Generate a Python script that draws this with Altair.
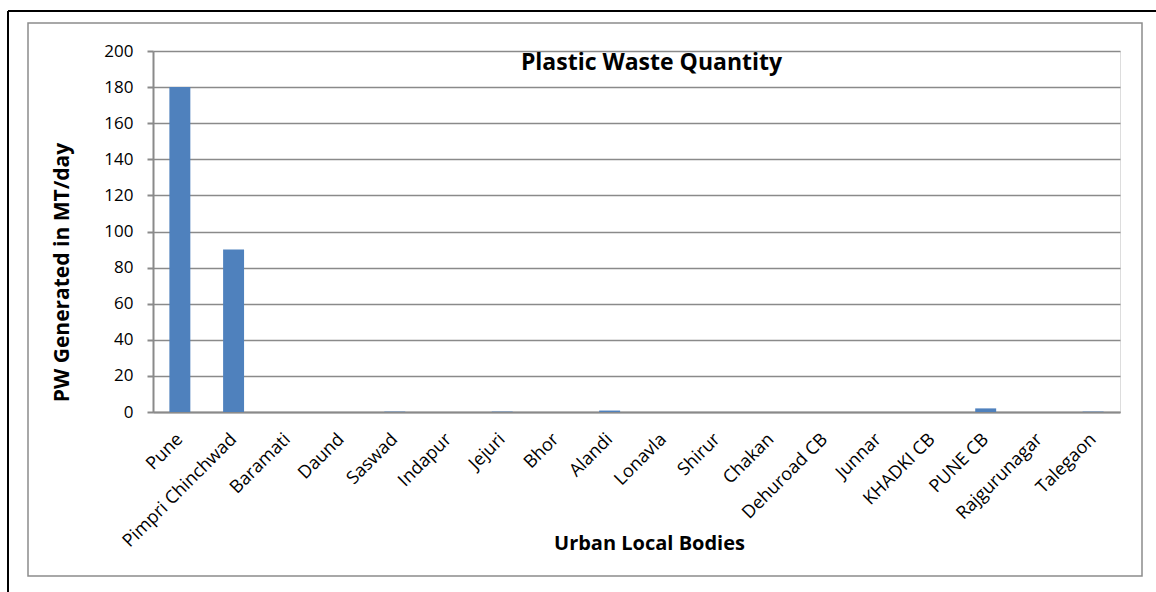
import altair as alt
import pandas as pd

# Plastic waste generated per urban local body (MT/day)
bodies = [
    "Pune", "Pimpri Chinchwad", "Baramati", "Daund", "Saswad", "Indapur",
    "Jejuri", "Bhor", "Alandi", "Lonavla", "Shirur", "Chakan",
    "Dehuroad CB", "Junnar", "KHADKI CB", "PUNE CB", "Rajgurunagar", "Talegaon",
]
waste = [180, 90, 0, 0, 0.2, 0, 0.2, 0, 0.8, 0, 0, 0, 0, 0, 0, 2, 0, 0.2]

df = pd.DataFrame({"body": bodies, "waste": waste})

FONT = "Open Sans"
GRID = "#8a8a8a"

# plot-area origin inside the page
LEFT, TOP = 153, 51
W, H = 967, 361

bars = alt.Chart(df).mark_bar(color="#4f81bd").encode(
    x=alt.X(
        "body:N",
        sort=bodies,
        scale=alt.Scale(paddingInner=0.61, paddingOuter=0.305),
        axis=alt.Axis(
            title="Urban Local Bodies",
            titleFont=FONT, titleFontSize=20, titleFontWeight="bold",
            titleColor="black",
            titleX=649 - LEFT, titleY=543 - (TOP + H),
            titleBaseline="middle", titleAnchor="start", titleAlign="center",
            labelAngle=-45, labelAlign="right", labelBaseline="top",
            labelFont=FONT, labelFontSize=18, labelColor="black",
            labelPadding=18, labelOffset=-6, labelOverlap=False,
            ticks=False, domainColor=GRID, domainWidth=2,
        ),
    ),
    y=alt.Y(
        "waste:Q",
        scale=alt.Scale(domain=[0, 200], nice=False),
        axis=alt.Axis(
            title="PW Generated in MT/day",
            titleFont=FONT, titleFontSize=21, titleFontWeight="bold",
            titleColor="black",
            titleX=62 - LEFT, titleY=272 - TOP,
            titleBaseline="middle", titleAlign="center", titleAngle=-90,
            values=list(range(0, 201, 20)),
            labelFont=FONT, labelFontSize=17, labelColor="black",
            labelPadding=14,
            tickColor=GRID, tickSize=6, tickWidth=2,
            domainColor=GRID, domainWidth=2,
            gridColor=GRID, gridWidth=1.5,
        ),
    ),
)

frame_df = pd.DataFrame({"k": [0]})

# grey chart-area frame
frame = alt.Chart(frame_df).mark_rect(
    fill=None, stroke="#8c8c8c", strokeWidth=1.5
).encode(
    x=alt.value(28 - LEFT), x2=alt.value(1142 - LEFT),
    y=alt.value(23 - TOP), y2=alt.value(576 - TOP),
)

# black page border, top and left edges
border_top = alt.Chart(frame_df).mark_rule(color="black", strokeWidth=2).encode(
    x=alt.value(8 - LEFT), x2=alt.value(1160 - LEFT), y=alt.value(11 - TOP),
)
border_left = alt.Chart(frame_df).mark_rule(color="black", strokeWidth=2).encode(
    x=alt.value(8 - LEFT), y=alt.value(11 - TOP), y2=alt.value(600 - TOP),
)

chart = alt.layer(frame, border_top, border_left, bars).properties(
    width=W, height=H,
    title=alt.TitleParams(
        "Plastic Waste Quantity",
        font=FONT, fontSize=23, fontWeight="bold", color="black",
        anchor="middle", frame="group", orient="top",
        baseline="middle", offset=0, dy=76, dx=15,
    ),
    autosize=alt.AutoSizeParams(type="none"),
    padding={"left": LEFT, "top": TOP, "right": 1156 - LEFT - W, "bottom": 592 - TOP - H},
).configure_view(stroke=None).configure(background="white")

chart.save("out.html", embed_options={"renderer": "svg", "actions": False})
